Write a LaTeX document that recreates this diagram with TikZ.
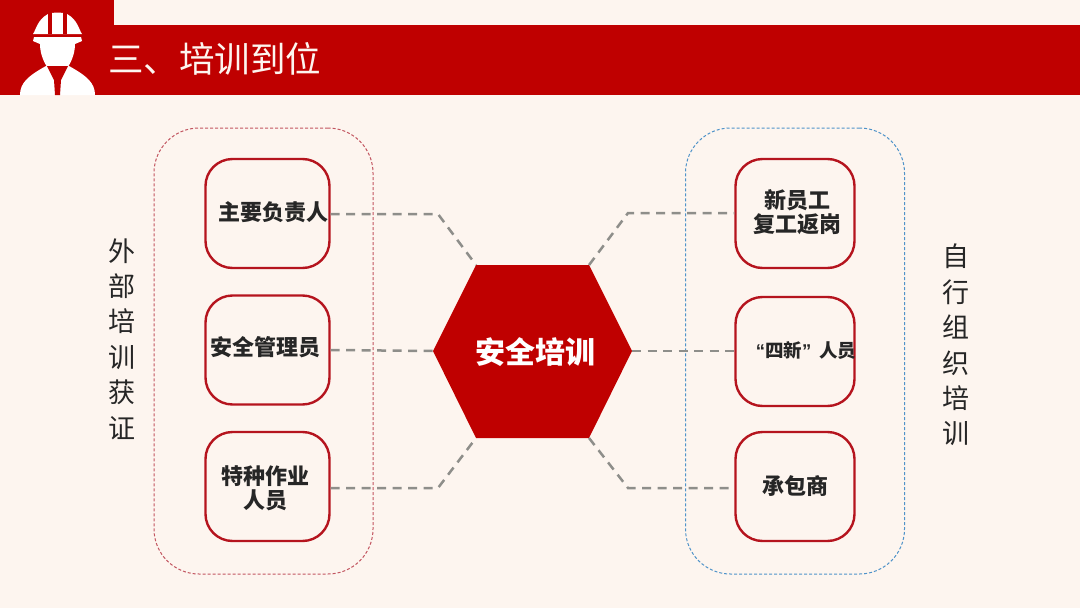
\documentclass[tikz,border=0pt]{standalone}
\usepackage{fontspec}
\setmainfont{Noto Sans CJK SC}
\newfontfamily\cjk{Noto Sans CJK SC}
\newfontfamily\latinb{Liberation Sans}
\definecolor{bgc}{HTML}{FDF5EF}
\definecolor{redc}{HTML}{BF0000}
\definecolor{boxc}{HTML}{B5141E}
\definecolor{grayc}{HTML}{8E8E8A}
\definecolor{txtc}{HTML}{262626}
\definecolor{leftc}{HTML}{C25560}
\definecolor{rightc}{HTML}{4F93C9}
\tikzset{
  x=1pt,y=-1pt,
  item/.style={draw=boxc,line width=2.4pt,fill=bgc,rounded corners=27pt,minimum width=#1,minimum height=109pt,inner sep=0pt},
  item/.default=124pt,
  group/.style={line width=1pt,dash pattern=on 3pt off 2pt,rounded corners=45pt,minimum width=219pt,minimum height=446pt,inner sep=0pt},
  conn/.style={draw=grayc,line width=2.5pt,dash pattern=on 9pt off 6.5pt},
  itemtxt/.style={font=\cjk\bfseries\fontsize{22}{24}\selectfont,text=txtc,align=center,inner sep=0pt},
  vert/.style={font=\cjk\fontsize{27}{35.4}\selectfont,text=black!85,align=center,inner sep=0pt},
}
\begin{document}
\begin{tikzpicture}
\useasboundingbox (0,0) rectangle (1080,608);
\fill[bgc] (0,0) rectangle (1080,608);
% header
\fill[redc] (0,0) rectangle (114,25);
\fill[redc] (0,25) rectangle (1080,95);
% worker icon: helmet
\fill[white] (33,34) .. controls (36,30) and (37,20) .. (48,14) .. controls (53,12) and (62,12) .. (67,14) .. controls (78,20) and (79,30) .. (82,34) -- cycle;
\fill[redc] (48,13) rectangle (52,34);
\fill[redc] (63,13) rectangle (67,34);
% brim and face
\fill[white] (34,37) -- (81,37) -- (82,41) -- (75,44) .. controls (75,54) and (71,62) .. (68,67) -- (47,67) .. controls (44,62) and (40,54) .. (40,44) -- (33,41) -- cycle;
% shoulders
\fill[white] (20,95) .. controls (20,83) and (28,76) .. (46,66) -- (69,66) .. controls (87,76) and (95,83) .. (95,95) -- cycle;
% collar and tie
\fill[redc] (47,66) -- (68,66) -- (61,80) -- (60,95) -- (55,95) -- (54,80) -- cycle;
\node[font=\cjk\fontsize{35.5}{37}\selectfont,text=bgc,anchor=west,inner sep=0pt] (title) at (108,59) {三、培训到位};
% groups
\node[group,draw=leftc] (gl) at (263.5,351) {};
\node[group,draw=rightc] (gr) at (795,351) {};
% hexagon
\coordinate (hw) at (433,351);
\coordinate (hnw) at (476,265);
\coordinate (hne) at (589,265);
\coordinate (he) at (632,351);
\coordinate (hse) at (589,438);
\coordinate (hsw) at (476,438);
\fill[redc] (hw) -- (hnw) -- (hne) -- (he) -- (hse) -- (hsw) -- cycle;
% boxes
\node[item] (l1) at (267.5,213.5) {};
\node[item] (l2) at (267.5,350) {};
\node[item] (l3) at (267.5,486.5) {};
\node[item=119pt] (r1) at (795,213.5) {};
\node[item=119pt] (r2) at (795,351.5) {};
\node[item=119pt] (r3) at (795,486.5) {};
% connectors
\coordinate (c1) at (438,214);
\coordinate (c3) at (438,488);
\coordinate (c4) at (628,213);
\coordinate (c6) at (628,488);
\coordinate (p1) at (l1.east |- c1);
\coordinate (p3) at (l3.east |- c3);
\coordinate (p4) at (r1.west |- c4);
\coordinate (p6) at (r3.west |- c6);
\draw[conn] (p1) -- (c1) -- (hnw);
\draw[conn] (l2.east) -- (hw);
\draw[conn] (p3) -- (c3) -- (hsw);
\draw[conn] (hne) -- (c4) -- (p4);
\draw[conn] (he) -- (he -| r2.west);
\draw[conn] (hse) -- (c6) -- (p6);
% labels
\node[font=\cjk\bfseries\fontsize{30}{32}\selectfont,text=white,inner sep=0pt] (hub) at (535.5,352) {安全培训};
\node[itemtxt] (tl1) at (273,212) {主要负责人};
\node[itemtxt] (tl2) at (265,347) {安全管理员};
\node[itemtxt] (tl3) at (265,488) {特种作业\\人员};
\node[itemtxt] (tr1) at (797,212) {新员工\\复工返岗};
\node[itemtxt,font=\cjk\bfseries\fontsize{18.5}{20}\selectfont] (tr2) at (806,351) {{\latinb\bfseries “}四新{\latinb\bfseries ”}\hspace{8pt}人员};
\node[itemtxt] (tr3) at (795,486) {承包商};
\node[vert] (vl) at (122,339) {外\\部\\培\\训\\获\\证};
\node[vert] (vr) at (956,345) {自\\行\\组\\织\\培\\训};
\end{tikzpicture}
\end{document}
